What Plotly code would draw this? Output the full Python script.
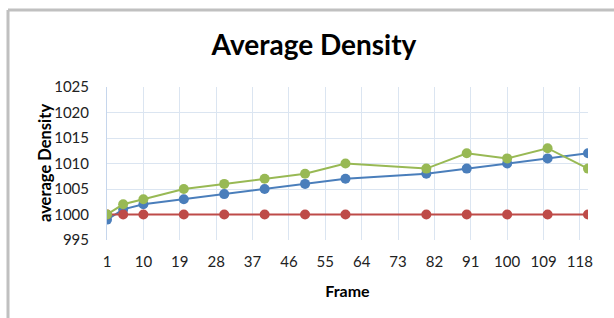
import plotly.graph_objects as go

frames = [1, 5, 10, 20, 30, 40, 50, 60, 80, 90, 100, 110, 120]
blue_vals = [999, 1001, 1002, 1003, 1004, 1005, 1006, 1007, 1008, 1009, 1010, 1011, 1012]
red_vals = [1000, 1000, 1000, 1000, 1000, 1000, 1000, 1000, 1000, 1000, 1000, 1000, 1000]
green_vals = [1000, 1002, 1003, 1005, 1006, 1007, 1008, 1010, 1009, 1012, 1011, 1013, 1009]
x_ticks = [1, 10, 19, 28, 37, 46, 55, 64, 73, 82, 91, 100, 109, 118]
y_ticks = [995, 1000, 1005, 1010, 1015, 1020, 1025]

FONT = "Lato"
fig = go.Figure()
for name, vals, col in [("blue", blue_vals, "#4a7ebb"), ("red", red_vals, "#be4b48"), ("green", green_vals, "#98b954")]:
    fig.add_trace(go.Scatter(x=frames, y=vals, mode="lines+markers", name=name,
                             line=dict(color=col, width=2),
                             marker=dict(color=col, size=10, line=dict(width=0))))

L, R, T, B = 107, 588, 87, 240
W, H = 614, 318
pw = R - L
ph = B - T
def px(x):
    return (x - L) / pw
def py(y):
    return (B - y) / ph

fig.update_layout(
    width=W, height=H,
    margin=dict(l=L, r=W - R, t=T, b=H - B),
    paper_bgcolor="white", plot_bgcolor="white",
    showlegend=False,
    title=dict(text="<b>Average Density</b>", x=314 / W, xanchor="center",
               y=1 - 45 / H, yanchor="middle", font=dict(family=FONT, size=28, color="black")),
    font=dict(family=FONT, color="#222"),
    xaxis=dict(range=[1, 120], tickvals=x_ticks, ticktext=[str(t) for t in x_ticks],
               showgrid=True, gridcolor="#dbe5f1", gridwidth=1,
               zeroline=False, showline=False,
               ticks="outside", ticklen=8, tickcolor="rgba(0,0,0,0)",
               tickfont=dict(size=15, family=FONT, color="#222"),
               title=dict(text="<b>Frame</b>", font=dict(size=16, family=FONT, color="black"), standoff=16)),
    yaxis=dict(range=[995, 1025], tickvals=y_ticks, showgrid=True, gridcolor="#dbe5f1", gridwidth=1,
               zeroline=False, showline=True, linecolor="#c6d6ec",
               ticks="outside", ticklen=14, tickcolor="rgba(0,0,0,0)",
               tickfont=dict(size=15, family=FONT, color="#222")),
    shapes=[
        dict(type="line", xref="paper", yref="paper", x0=px(8), x1=px(620), y0=py(10), y1=py(10),
             line=dict(color="#c0c0c0", width=3)),
        dict(type="line", xref="paper", yref="paper", x0=px(8), x1=px(8), y0=py(10), y1=py(330),
             line=dict(color="#c0c0c0", width=3)),
    ],
    annotations=[
        dict(text="<b>average Density</b>", xref="paper", yref="paper", x=px(45), y=py(163),
             textangle=-90, showarrow=False, xanchor="center", yanchor="middle",
             font=dict(size=16.5, family=FONT, color="black"))
    ],
)

fig.write_html("out.html", config={"displayModeBar": False},
               post_script="document.body.style.margin='0';document.body.style.padding='0';")
